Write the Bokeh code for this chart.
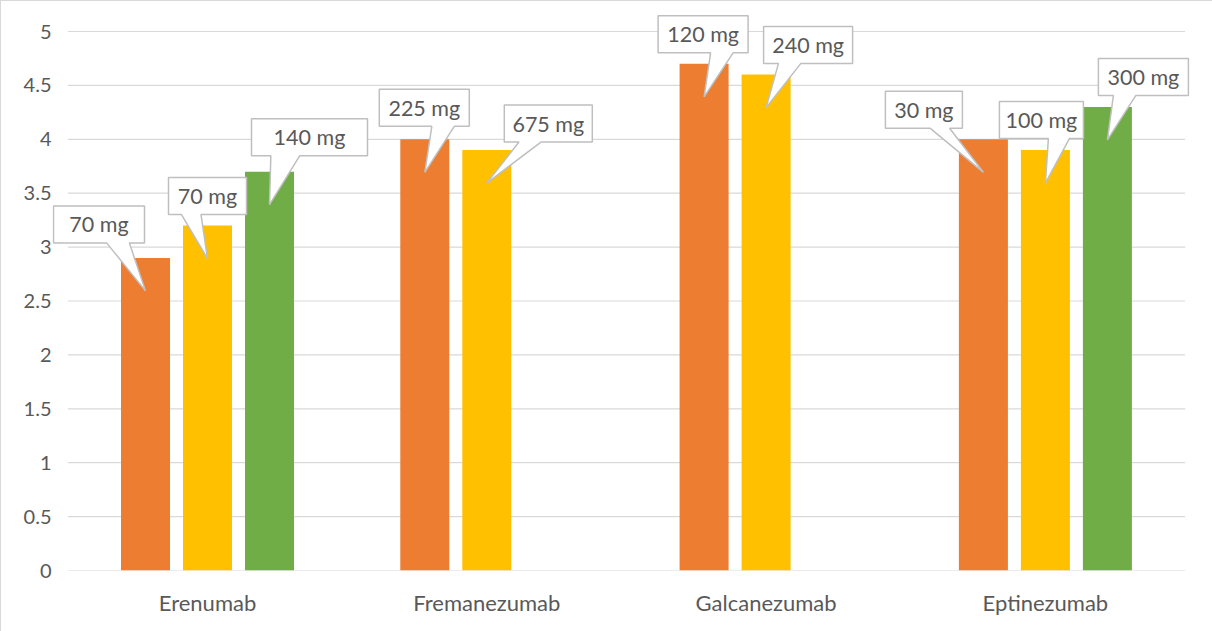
from bokeh.plotting import figure
from bokeh.models import FixedTicker, Range1d
from bokeh.core.properties import value
from bokeh.embed import file_html
from bokeh.resources import INLINE

# ---- data -------------------------------------------------------------
drugs = ["Erenumab", "Fremanezumab", "Galcanezumab", "Eptinezumab"]

dose1_values = [2.9, 4.0, 4.7, 4.0]
dose1_labels = ["70 mg", "225 mg", "120 mg", "30 mg"]

dose2_values = [3.2, 3.9, 4.6, 3.9]
dose2_labels = ["70 mg", "675 mg", "240 mg", "100 mg"]

dose3_values = [3.7, None, None, 4.3]
dose3_labels = ["140 mg", None, None, "300 mg"]

y_ticks = [0, 0.5, 1, 1.5, 2, 2.5, 3, 3.5, 4, 4.5, 5]
y_tick_labels = ["0", "0.5", "1", "1.5", "2", "2.5", "3", "3.5", "4", "4.5", "5"]

# ---- styling / layout -------------------------------------------------
series = [
    (dose1_values, dose1_labels, "#ED7D31"),
    (dose2_values, dose2_labels, "#FFC000"),
    (dose3_values, dose3_labels, "#70AD47"),
]
# callout boxes: (centre shift from bar centre px, box width px, gap above bar top px)
callout_layout = [
    [(-46.5, 91, 15), (0, 78, 11), (40, 116, 16)],
    [(-0.5, 90, 13), (61.5, 88, 8), None],
    [(-1, 90, 11), (42, 89, 11), None],
    [(-59.5, 77, 11), (-4, 84, 11.5), (36, 90, 11.5)],
]
BOX_H = 37          # callout height, px
TIP_DROP = 33       # pointer tip below bar top, px
PX_X = 279.3        # pixels per category
PX_Y = 107.8        # pixels per y unit
BAR_W = 49 / PX_X
BAR_STEP = 62 / PX_X
TEXT = "#595959"
FONT = "Lato"

W, H = 1212, 631
LEFT, RIGHT, TOP, BOTTOM = 52, 12, 4, 61
cat0_px = 207
x_start = -(cat0_px - LEFT) / PX_X
x_end = x_start + (W - LEFT - RIGHT) / PX_X
y0_px = H - BOTTOM
y_end = (y0_px - TOP) / PX_Y

p = figure(width=W, height=H, output_backend="svg", toolbar_location=None,
           x_range=Range1d(x_start, x_end), y_range=Range1d(0, y_end),
           min_border_left=LEFT, min_border_right=RIGHT,
           min_border_top=TOP, min_border_bottom=BOTTOM,
           outline_line_color=None, border_fill_color=None,
           background_fill_color="white")
p.stylesheets = [":host { background: white; box-shadow: inset 1px 1px 0 0 #D9D9D9; }"]
p.grid.visible = False

# horizontal gridlines across the category span
p.segment(x0=[-0.5] * len(y_ticks), x1=[len(drugs) - 0.5] * len(y_ticks),
          y0=y_ticks, y1=y_ticks, line_color="#D9D9D9", line_width=1.2)

# bars
for s, (vals, labels, color) in enumerate(series):
    xs, tops = [], []
    for g, v in enumerate(vals):
        if v is None:
            continue
        xs.append(g + (s - 1) * BAR_STEP)
        tops.append(v)
    p.vbar(x=xs, top=tops, width=BAR_W, bottom=0, fill_color=color, line_color=None)

# callouts
poly_xs, poly_ys, tx, ty, tt = [], [], [], [], []
for s, (vals, labels, color) in enumerate(series):
    for g, v in enumerate(vals):
        if v is None:
            continue
        dx, bw, gap = callout_layout[g][s]
        bx = g + (s - 1) * BAR_STEP
        # pixel offsets relative to (bar centre, bar top), y up
        L, R = dx - bw / 2, dx + bw / 2
        B = gap
        T = gap + BOX_H
        tip_x, tip_y = 0, -TIP_DROP
        if tip_x > dx:
            b1, b2 = L + bw * 7 / 12, L + bw * 10 / 12
        else:
            b1, b2 = L + bw * 2 / 12, L + bw * 5 / 12
        pts = [(L, T), (R, T), (R, B), (b2, B), (tip_x, tip_y), (b1, B), (L, B)]
        poly_xs.append([bx + px / PX_X for px, _ in pts])
        poly_ys.append([v + py / PX_Y for _, py in pts])
        tx.append(bx + dx / PX_X)
        ty.append(v + (B + T) / 2 / PX_Y)
        tt.append(labels[g])

p.patches(xs=poly_xs, ys=poly_ys, fill_color="white", line_color="#BFBFBF", line_width=1.5)
p.text(x=tx, y=ty, text=tt, text_align="center", text_baseline="middle",
       text_font=value(FONT), text_font_size="21.5px", text_color=TEXT)

# axes
p.yaxis.ticker = FixedTicker(ticks=y_ticks)
p.yaxis.major_label_overrides = {t: l for t, l in zip(y_ticks, y_tick_labels)}
p.yaxis.axis_line_color = None
p.yaxis.major_tick_line_color = None
p.yaxis.minor_tick_line_color = None
p.yaxis.major_label_standoff = -5
p.yaxis.major_label_text_font = FONT
p.yaxis.major_label_text_font_size = "20px"
p.yaxis.major_label_text_color = TEXT

p.xaxis.ticker = FixedTicker(ticks=list(range(len(drugs))))
p.xaxis.major_label_overrides = {i: d for i, d in enumerate(drugs)}
p.xaxis.axis_line_color = None
p.xaxis.major_tick_line_color = None
p.xaxis.minor_tick_line_color = None
p.xaxis.major_label_standoff = 12
p.xaxis.major_label_text_font = FONT
p.xaxis.major_label_text_font_size = "22px"
p.xaxis.major_label_text_color = TEXT

open("out.html", "w").write(file_html(p, INLINE))
